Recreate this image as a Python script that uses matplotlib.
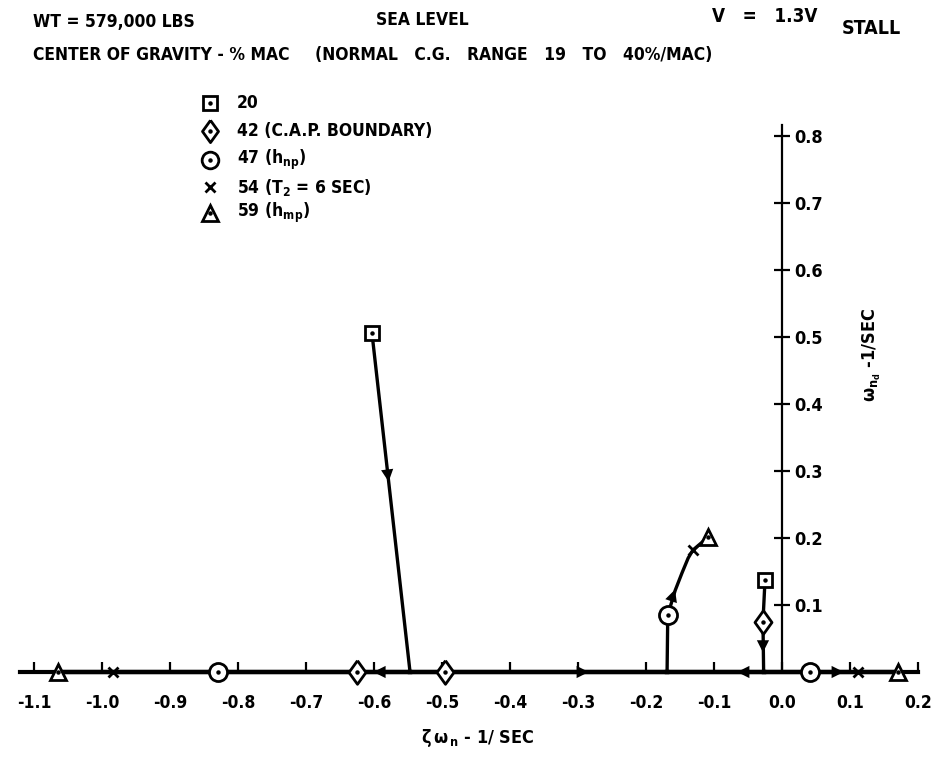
import matplotlib
matplotlib.use("Agg")
import matplotlib.pyplot as plt
import numpy as np

plt.rcParams['font.family'] = ['DejaVu Sans']
plt.rcParams['font.stretch'] = 'condensed'
plt.rcParams['font.weight'] = 'bold'
plt.rcParams['mathtext.default'] = 'regular'

# Root locus data (zeta*omega_n, omega_nd)
# short period pair, 20% c.g. down to the break-in point
sp_x = [-0.603, -0.547]
sp_y = [0.506, 0.0]
# real roots after break-in, going left (42, 47, 54, 59 %)
left_x = [-0.547, -0.625, -0.829, -0.984, -1.065]
# real root after break-in, going right
mid_x = [-0.547, -0.496, -0.169]
# phugoid pair, 20% and 42% down to the real axis
ph_x = [-0.025, -0.028, -0.027]
ph_y = [0.137, 0.075, 0.0]
# phugoid real roots after break-in
ph_right_x = [-0.027, 0.041, 0.112, 0.171]
ph_left_x = [-0.027, -0.169]
# third oscillatory mode (47, 54, 59 %)
tm_x = [-0.169, -0.168, -0.157, -0.147, -0.138, -0.131, -0.109]
tm_y = [0.0, 0.085, 0.122, 0.148, 0.170, 0.182, 0.201]

# c.g. marked points
cg20_x, cg20_y = [-0.603, -0.025], [0.506, 0.137]
cg42_x, cg42_y = [-0.625, -0.496, -0.028], [0.0, 0.0, 0.075]
cg47_x, cg47_y = [-0.829, 0.041, -0.168], [0.0, 0.0, 0.085]
cg54_x, cg54_y = [-0.984, 0.112, -0.131], [0.0, 0.0, 0.182]
cg59_x, cg59_y = [-1.065, 0.171, -0.109], [0.0, 0.0, 0.201]

# direction arrows on the branches: position and direction
arr_x = [-0.584, -0.028, -0.161, -0.585, -0.050, 0.075, -0.300]
arr_y = [0.330, 0.045, 0.112, 0.0, 0.0, 0.0, 0.0]
arr_dx = [0.006, 0.0, 0.005, -0.02, -0.02, 0.02, 0.02]
arr_dy = [-0.05, -0.02, 0.015, 0.0, 0.0, 0.0, 0.0]

xticks = [-1.1, -1.0, -0.9, -0.8, -0.7, -0.6, -0.5, -0.4, -0.3, -0.2, -0.1, 0.0, 0.1, 0.2]
xticklabels = ['-1.1', '-1.0', '-0.9', '-0.8', '-0.7', '-0.6', '-0.5', '-0.4',
               '-0.3', '-0.2', '-0.1', '0.0', '0.1', '0.2']
yticks = [0.1, 0.2, 0.3, 0.4, 0.5, 0.6, 0.7, 0.8]
yticklabels = ['0.1', '0.2', '0.3', '0.4', '0.5', '0.6', '0.7', '0.8']

legend_labels = ['20', '42 (C.A.P. BOUNDARY)', r'47 (h$_{np}$)',
                 r'54 (T$_{2}$ = 6 SEC)', r'59 (h$_{mp}$)']

W, H = 940, 758
fig = plt.figure(figsize=(W / 100, H / 100), dpi=100)
ax = fig.add_axes([0, 0, 1, 1])
ax.set_xlim(-782 / 680, (W - 782) / 680)
ax.set_ylim(-(H - 672) / 670, 672 / 670)


def px(x, y):
    return x / W, 1 - y / H


# diamond a little taller than wide
diamond = [(0, 1), (0.72, 0), (0, -1), (-0.72, 0), (0, 1)]

# axes through the origin
for s in ['top', 'left']:
    ax.spines[s].set_visible(False)
ax.spines['bottom'].set_position(('data', 0))
ax.spines['bottom'].set_bounds(-1.12, 0.2)
ax.spines['bottom'].set_linewidth(3)
ax.spines['right'].set_position(('data', 0))
ax.spines['right'].set_bounds(0, 0.816)
ax.spines['right'].set_linewidth(1.6)
ax.yaxis.set_ticks_position('right')
ax.xaxis.set_ticks_position('bottom')

ax.set_xticks(xticks)
ax.set_xticklabels(xticklabels)
ax.set_yticks(yticks)
ax.set_yticklabels(yticklabels)
ax.tick_params(axis='x', direction='in', length=7, width=1.6, pad=16, labelsize=12.5)
ax.tick_params(axis='y', direction='inout', length=12, width=1.6, pad=3, labelsize=13)

lw = 2.4
ax.plot(sp_x, sp_y, color='black', lw=lw, zorder=2)
ax.plot(left_x, np.zeros(len(left_x)), color='black', lw=3.2, zorder=2)
ax.plot(mid_x, np.zeros(len(mid_x)), color='black', lw=3.2, zorder=2)
ax.plot(ph_x, ph_y, color='black', lw=lw, zorder=2)
ax.plot(ph_right_x, np.zeros(len(ph_right_x)), color='black', lw=3.2, zorder=2)
ax.plot(ph_left_x, np.zeros(len(ph_left_x)), color='black', lw=3.2, zorder=2)
ax.plot(tm_x, tm_y, color='black', lw=lw, zorder=2)

for x, y, dx, dy in zip(arr_x, arr_y, arr_dx, arr_dy):
    ax.annotate('', xy=(x + dx, y + dy), xytext=(x, y),
                arrowprops=dict(arrowstyle='-|>', mutation_scale=22,
                                color='black', lw=0), zorder=3)

mk = dict(ls='none', mfc='white', mec='black', mew=2, zorder=4)
dot = dict(ls='none', marker='o', ms=2.2, color='black', zorder=5)
ax.plot(cg20_x, cg20_y, marker='s', ms=10, **mk)
ax.plot(cg20_x, cg20_y, **dot)
ax.plot(cg42_x, cg42_y, marker=diamond, ms=17, **mk)
ax.plot(cg42_x, cg42_y, **dot)
ax.plot(cg47_x, cg47_y, marker='o', ms=13, **mk)
ax.plot(cg47_x, cg47_y, **dot)
ax.plot(cg54_x, cg54_y, marker='x', ms=7, ls='none', color='black', mew=2, zorder=4)
ax.plot(cg59_x, cg59_y, marker='^', ms=11, **mk)
ax.plot(cg59_x, cg59_y, **dot)

# legend block
leg_y = [103, 131, 160, 187, 213]
leg_m = ['s', diamond, 'o', 'x', '^']
leg_ms = [10, 16, 12, 7, 11]
for yy, m, s, lab in zip(leg_y, leg_m, leg_ms, legend_labels):
    if isinstance(m, str) and m == 'x':
        ax.plot(*px(210, yy), marker='x', ms=s, color='black', mew=2,
                transform=ax.transAxes)
    else:
        ax.plot(*px(210, yy), marker=m, ms=s, mfc='white', mec='black', mew=2,
                transform=ax.transAxes)
        ax.plot(*px(210, yy), marker='o', ms=2.2, color='black',
                transform=ax.transAxes)
    ax.text(*px(237, yy), lab, transform=ax.transAxes, fontsize=12.5,
            va='center', ha='left')

# header
hdr = dict(transform=ax.transAxes, fontsize=12.5, va='center')
ax.text(*px(33, 22), 'WT = 579,000 LBS', **hdr)
ax.text(*px(376, 20), 'SEA LEVEL', **hdr)
ax.text(*px(712, 17), 'V   =   1.3V', transform=ax.transAxes, fontsize=13.5, va='center')
ax.text(*px(842, 28), 'STALL', transform=ax.transAxes, fontsize=14, va='center')
ax.text(*px(33, 55), 'CENTER OF GRAVITY - % MAC', **hdr)
ax.text(*px(315, 55), '(NORMAL   C.G.   RANGE   19   TO   40%/MAC)', **hdr)

# axis titles
ax.text(*px(478, 738), r'$\zeta\,\omega_{\,n}$ - 1/ SEC', transform=ax.transAxes,
        fontsize=13, ha='center', va='center')
ax.text(*px(872, 355), r'$\omega_{n_d}$ -1/SEC', transform=ax.transAxes,
        fontsize=13, ha='center', va='center', rotation=90)

fig.savefig('out.png', dpi=100)
